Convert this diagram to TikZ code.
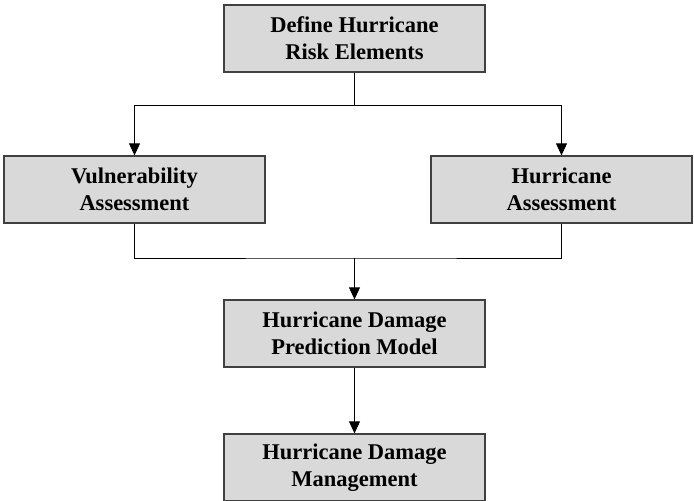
\documentclass[tikz,border=0pt]{standalone}
\usepackage{fontspec}
\setmainfont{Liberation Serif}
\usetikzlibrary{arrows.meta}
\begin{document}
\begin{tikzpicture}[x=1pt,y=-1pt,
  box/.style={draw=black!75,line width=1.3pt,fill=black!15,minimum width=261pt,minimum height=67pt,inner sep=0pt,align=center,font=\fontsize{22.5}{27}\selectfont\bfseries},
  conn/.style={draw=black,line width=0.8pt},
  arr/.style={conn,-{Triangle[length=12pt,width=11pt]}}]
\useasboundingbox (0,0) rectangle (694,501);
\node[box] (top) at (354.5,38.5) {Define Hurricane\\Risk Elements};
\node[box] (vul) at (134.5,189.5) {Vulnerability\\Assessment};
\node[box] (hur) at (561.5,189.5) {Hurricane\\Assessment};
\node[box] (pred) at (354.5,333.5) {Hurricane Damage\\Prediction Model};
\node[box] (man) at (354.5,467.5) {Hurricane Damage\\Management};
\coordinate (split) at (354.5,105);
\coordinate (join) at (354.5,258);
\draw[conn] (top.south) -- (split);
\draw[arr] (split) -| (vul.north);
\draw[arr] (split) -| (hur.north);
\draw[conn] (vul.south) |- (join) -| (hur.south);
\draw[arr] (join) -- (pred.north);
\draw[arr] (pred.south) -- (man.north);
\end{tikzpicture}
\end{document}
